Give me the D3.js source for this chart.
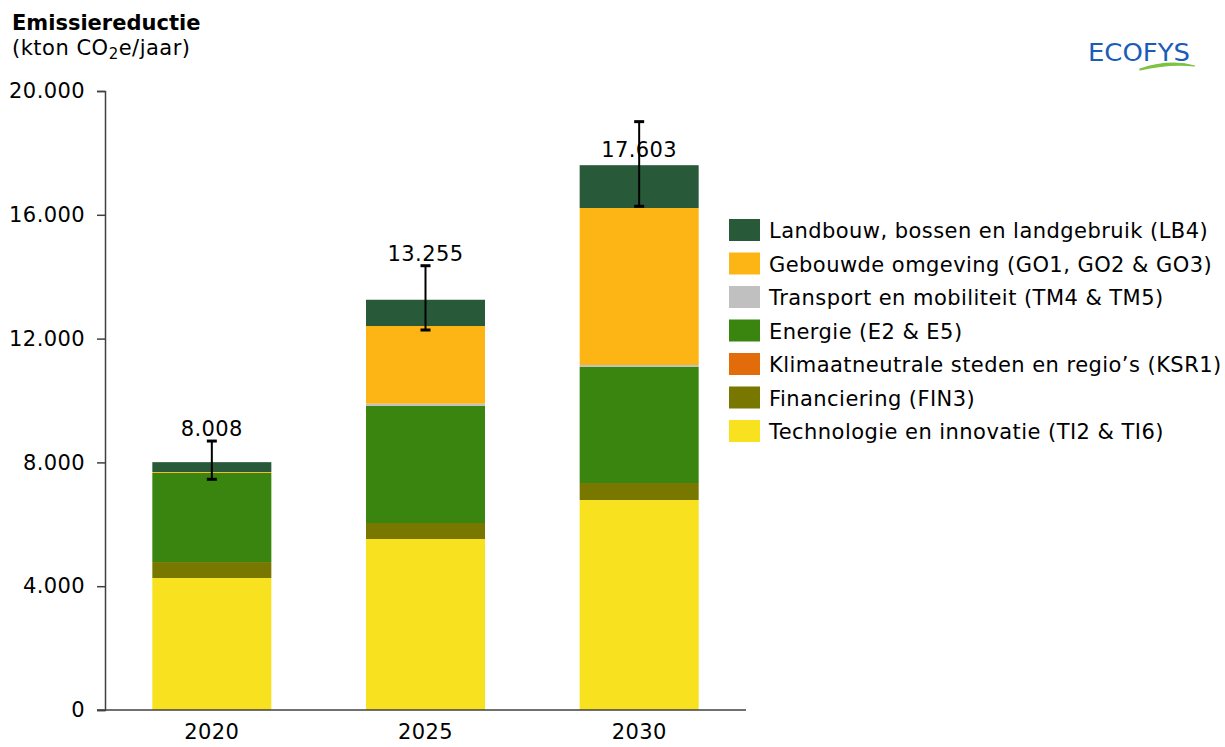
<!DOCTYPE html>
<html>
<head>
<meta charset="utf-8">
<script src="https://cdn.jsdelivr.net/npm/d3@7"></script>
<style>
  html, body { margin: 0; padding: 0; background: #fff; }
  svg { display: block; }
  text { font-family: "DejaVu Sans", Verdana, sans-serif; fill: #000; }
</style>
</head>
<body>
<svg id="chart" width="1225" height="747"></svg>
<script>
// ---- Data ----
const years = ["2020", "2025", "2030"];
const seriesNames = [
  "Technologie en innovatie (TI2 & TI6)",
  "Financiering (FIN3)",
  "Klimaatneutrale steden en regio’s (KSR1)",
  "Energie (E2 & E5)",
  "Transport en mobiliteit (TM4 & TM5)",
  "Gebouwde omgeving (GO1, GO2 & GO3)",
  "Landbouw, bossen en landgebruik (LB4)"
];
const seriesColors = ["#F8E11E", "#787800", "#E36C0A", "#3A8510", "#C0C0C0", "#FDB515", "#285A3A"];
const technologie = [4265, 5525, 6785];
const financiering = [515, 517, 549];
const klimaatneutraal = [0, 0, 0];
const energie = [2880, 3790, 3759];
const transport = [0, 65, 54];
const gebouwd = [30, 2510, 5073];
const landbouw = [318, 848, 1383];
const totals = [8008, 13255, 17603];
const errLow = [7454, 12278, 16275];
const errHigh = [8690, 14355, 19010];
const yTicks = [0, 4000, 8000, 12000, 16000, 20000];

// ---- Build ----
const seriesValues = [technologie, financiering, klimaatneutraal, energie, transport, gebouwd, landbouw];
const keys = seriesValues.map((_, i) => "s" + i);
const table = years.map((yr, j) => {
  const row = { year: yr };
  seriesValues.forEach((arr, i) => row[keys[i]] = arr[j]);
  return row;
});
const stacked = d3.stack().keys(keys)(table);

const svg = d3.select("#chart");
const mLeft = 105, mRight = 746, mTop = 91, mBottom = 710;
const x = d3.scaleBand().domain(years).range([mLeft, mRight]).paddingInner(0.443).paddingOuter(0.2215);
const y = d3.scaleLinear().domain([0, 20000]).range([mBottom, mTop]);
const nl = d3.formatLocale({ decimal: ",", thousands: ".", grouping: [3], currency: ["€", ""] });
const fmt = nl.format(",d");

// Bars
svg.append("g").selectAll("g").data(stacked).join("g")
  .attr("fill", (d, i) => seriesColors[i])
  .selectAll("rect").data(d => d).join("rect")
  .attr("x", d => x(d.data.year))
  .attr("width", x.bandwidth())
  .attr("y", d => y(d[1]))
  .attr("height", d => Math.max(0, y(d[0]) - y(d[1])));

// Y axis
const yAxis = svg.append("g").attr("transform", `translate(${mLeft},0)`)
  .call(d3.axisLeft(y).tickValues(yTicks).tickFormat(fmt).tickSize(8).tickPadding(12));
yAxis.select(".domain").attr("stroke", "#404040").attr("stroke-width", 1.5);
yAxis.selectAll(".tick line").attr("stroke", "#404040").attr("stroke-width", 1.5);
yAxis.selectAll(".tick text").attr("font-size", 21).attr("font-family", "DejaVu Sans")
  .style("letter-spacing", "0.4px");

// X axis
const xAxis = svg.append("g").attr("transform", `translate(0,${mBottom})`)
  .call(d3.axisBottom(x).tickSize(0).tickPadding(14));
xAxis.select(".domain").attr("d", `M${mLeft - 8},0H${mRight}`).attr("stroke", "#404040").attr("stroke-width", 1.5);
xAxis.selectAll(".tick text").attr("font-size", 21).attr("font-family", "DejaVu Sans")
  .attr("dy", "0.71em").style("letter-spacing", "0.4px");

// Error bars
const eb = svg.append("g").attr("stroke", "#000");
years.forEach((yr, j) => {
  const cx = x(yr) + x.bandwidth() / 2;
  eb.append("line").attr("x1", cx).attr("x2", cx).attr("y1", y(errHigh[j])).attr("y2", y(errLow[j])).attr("stroke-width", 2);
  [errHigh[j], errLow[j]].forEach(v => {
    eb.append("line").attr("x1", cx - 5).attr("x2", cx + 5).attr("y1", y(v)).attr("y2", y(v)).attr("stroke-width", 3);
  });
});

// Total labels
svg.append("g").selectAll("text").data(years).join("text")
  .attr("x", d => x(d) + x.bandwidth() / 2)
  .attr("y", (d, j) => j === 2 ? y(totals[j]) - 8 : y(errHigh[j]) - 5)
  .attr("text-anchor", "middle")
  .attr("font-size", 21)
  .style("letter-spacing", "0.4px")
  .text((d, j) => fmt(totals[j]));

// Title
svg.append("text").attr("x", 12).attr("y", 30).attr("font-size", 21).attr("font-weight", "bold").text("Emissiereductie");
const sub = svg.append("text").attr("x", 12).attr("y", 55).attr("font-size", 21).style("letter-spacing", "0.5px");
sub.append("tspan").text("(kton CO");
sub.append("tspan").attr("font-size", 15).attr("dy", 4).text("2");
sub.append("tspan").attr("dy", -4).text("e/jaar)");

// Legend (top to bottom = last series first)
const legendOrder = d3.range(seriesNames.length).reverse();
const lg = svg.append("g").attr("transform", "translate(729,219)");
const items = lg.selectAll("g").data(legendOrder).join("g")
  .attr("transform", (d, i) => `translate(0,${i * 33.5})`);
items.append("rect").attr("width", 31).attr("height", 22).attr("fill", d => seriesColors[d]);
items.append("text").attr("x", 40).attr("y", 19).attr("font-size", 21)
  .style("letter-spacing", "0.45px").text(d => seriesNames[d]);

// Logo
const logo = svg.append("g");
logo.append("text").attr("x", 1088).attr("y", 61).attr("font-size", 25)
  .style("fill", "#1A5CB8").style("font-weight", "500")
  .attr("textLength", 102).attr("lengthAdjust", "spacingAndGlyphs").text("ECOFYS");
logo.append("path").attr("d", "M1140,69 Q1170,59 1195,66 Q1170,63 1140,70 Z")
  .attr("fill", "#7CC242").attr("stroke", "#7CC242").attr("stroke-width", 1.2);
</script>
</body>
</html>
